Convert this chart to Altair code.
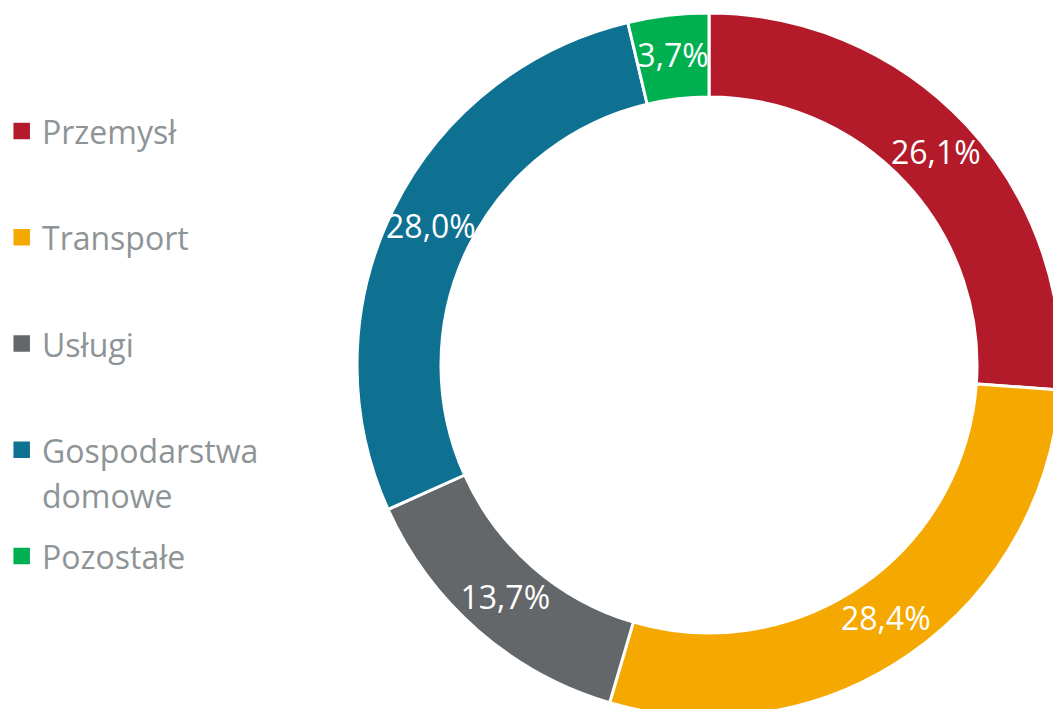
import altair as alt
import pandas as pd

categories = ["Przemysł", "Transport", "Usługi", "Gospodarstwa domowe", "Pozostałe"]
legend_labels = ["Przemysł", "Transport", "Usługi", "Gospodarstwa\ndomowe", "Pozostałe"]
values = [26.1, 28.4, 13.7, 28.0, 3.7]
colors = ["#B31B2A", "#F5A800", "#63676A", "#0E7192", "#00B050"]

pct_labels = [f"{v:.1f}".replace(".", ",") + "%" for v in values]

df = pd.DataFrame({
    "cat": categories,
    "value": values,
    "order": list(range(len(categories))),
    "pct": pct_labels,
    "leg": legend_labels,
})

color_scale = alt.Scale(domain=categories, range=colors)
FONT = "Open Sans"
CX, CY = 701, 357

base = alt.Chart(df).encode(
    theta=alt.Theta("value:Q", stack=True),
    order=alt.Order("order:Q"),
    color=alt.Color("cat:N", scale=color_scale, legend=None),
    x=alt.value(CX),
    y=alt.value(CY),
)

arcs = base.mark_arc(outerRadius=352, innerRadius=268, stroke="white", strokeWidth=3)
labels = base.mark_text(radius=310, fontSize=32, font=FONT, baseline="middle", align="center").encode(
    text="pct:N", color=alt.value("white")
)

ybase = alt.Chart(df).encode(
    y=alt.Y("cat:N", sort=categories,
            scale=alt.Scale(type="point", domain=categories, range=[123, 548], padding=0),
            axis=None)
)
squares = ybase.mark_square(size=272, opacity=1, filled=True).encode(
    x=alt.value(13.7),
    color=alt.Color("cat:N", scale=color_scale, legend=None),
)
texts = ybase.mark_text(
    align="left", baseline="top", dy=-12, fontSize=32, font=FONT, color="#8E9496",
    lineBreak="\n", lineHeight=45,
).encode(x=alt.value(34), text="leg:N")

chart = alt.layer(squares, texts, arcs, labels).resolve_scale(y="independent").properties(
    width=1045, height=701,
    padding=0,
    autosize=alt.AutoSizeParams(type="none"),
).configure_view(stroke=None)

chart.save("out.html", embed_options={"renderer": "svg", "actions": False})
